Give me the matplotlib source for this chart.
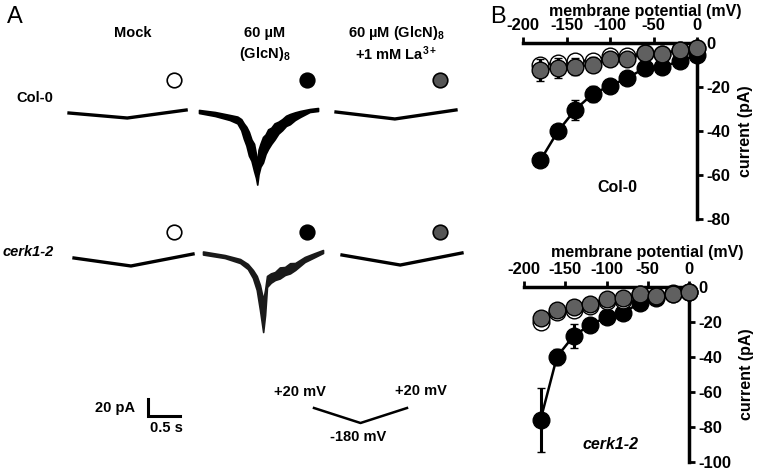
import matplotlib
matplotlib.use('Agg')
import matplotlib.pyplot as plt
import numpy as np

plt.rcParams['font.family'] = ['Liberation Sans', 'DejaVu Sans']
plt.rcParams['font.weight'] = 'bold'
plt.rcParams['axes.unicode_minus'] = False
plt.rcParams['mathtext.fontset'] = 'custom'
plt.rcParams['mathtext.rm'] = 'Liberation Sans:bold'
plt.rcParams['mathtext.bf'] = 'Liberation Sans:bold'
plt.rcParams['mathtext.it'] = 'Liberation Sans:italic:bold'
plt.rcParams['mathtext.default'] = 'rm'

# ---------------- data: panel B (I-V curves) ----------------
voltage = [-180, -160, -140, -120, -100, -80, -60, -40, -20, 0]

col_glcn = [-53.3, -40.2, -30.3, -23.2, -19.5, -15.9, -11.4, -10.7, -8.4, -5.4]
col_glcn_err = [1.5, 1.5, 4.5, 3.7, 2.5, 1.5, 1.5, 1.5, 1.0, 1.0]
col_mock = [-9.9, -9.0, -8.3, -8.0, -6.0, -6.0, -4.6, -4.9, -3.2, -2.1]
col_mock_err = [1.0, 1.0, 1.0, 1.0, 1.0, 1.0, 1.0, 1.0, 1.0, 0.5]
col_la = [-12.2, -11.4, -10.7, -9.9, -7.3, -7.3, -4.6, -4.9, -3.2, -2.1]
col_la_err = [5.0, 4.5, 4.0, 3.5, 1.5, 1.5, 1.0, 1.0, 1.0, 0.5]

cerk_glcn = [-76.0, -39.8, -28.0, -21.7, -17.3, -15.0, -9.0, -6.5, -3.6, -2.7]
cerk_glcn_err = [18.0, 4.5, 6.7, 2.0, 1.5, 1.5, 1.0, 1.0, 1.0, 0.5]
cerk_mock = [-20.0, -14.5, -13.0, -11.0, -8.0, -7.5, -3.8, -5.1, -3.8, -2.7]
cerk_mock_err = [1.5, 1.5, 1.0, 1.0, 1.0, 1.0, 1.0, 1.0, 1.0, 0.5]
cerk_la = [-17.9, -13.1, -11.6, -9.7, -7.0, -6.5, -3.8, -5.1, -3.8, -2.7]
cerk_la_err = [2.0, 1.5, 1.0, 1.0, 1.0, 1.0, 1.0, 1.0, 1.0, 0.5]

# ---------------- data: panel A (current traces, s / pA) ----------------
col_mock_t = [0.0, 0.91, 1.83]
col_mock_i = [0.0, -5.9, 3.5]
col_la_t = [0.0, 0.92, 1.875]
col_la_i = [0.0, -8.2, 2.4]
cerk_mock_t = [0.0, 0.89, 1.86]
cerk_mock_i = [0.0, -9.4, 4.7]
cerk_la_t = [0.0, 0.91, 1.875]
cerk_la_i = [0.0, -11.8, 2.4]

# noisy (GlcN)8 traces: upper / lower edge of the noise band
col_glcn_t = [0.0, 0.25, 0.48, 0.60, 0.66, 0.70, 0.74, 0.78, 0.82, 0.86, 0.89, 0.91, 0.93,
              0.96, 1.00, 1.04, 1.08, 1.13, 1.18, 1.24, 1.30, 1.36, 1.42, 1.50, 1.58, 1.73, 1.86]
col_glcn_hi = [1.8, -0.6, -4.1, -6.0, -9.0, -14.0, -18.0, -24.0, -33.0, -38.0, -50.0, -62.0, -45.0,
               -38.0, -30.0, -27.0, -21.0, -19.0, -14.0, -12.0, -9.0, -5.0, -3.0, -1.0, 0.6, 2.9, 4.1]
col_glcn_lo = [-1.8, -5.3, -10.0, -14.0, -22.0, -32.0, -40.0, -52.0, -58.0, -70.0, -78.0, -86.0, -74.0,
               -65.0, -60.0, -50.0, -44.0, -38.0, -33.0, -26.0, -22.0, -17.0, -15.0, -10.0, -6.5, -0.6, 0.6]

cerk_glcn_t = [0.0, 0.34, 0.58, 0.70, 0.78, 0.84, 0.89, 0.94, 0.97, 1.0, 1.06, 1.125, 1.2,
               1.28, 1.36, 1.44, 1.59, 1.75, 1.875]
cerk_glcn_hi = [1.8, -2.4, -7.1, -12.9, -20.0, -27.0, -37.6, -55.0, -43.5, -27.0, -24.0, -22.4, -17.0,
                -16.5, -12.0, -11.8, -4.7, 0.0, 3.5]
cerk_glcn_lo = [-1.8, -5.9, -11.8, -18.8, -29.4, -43.5, -67.0, -93.0, -73.0, -40.0, -35.0, -31.8, -30.0,
                -25.9, -24.0, -20.0, -10.6, -4.7, 0.0]

# voltage protocol
proto_t = [0.0, 1.0, 2.0]
proto_v = [20, -180, 20]

W, H = 762, 473
fig = plt.figure(figsize=(W / 100, H / 100), dpi=100)


def fx(x):
    return x / W


def fy(y):
    return 1 - y / H


def txt(x, y, s, **kw):
    ha = kw.pop('ha', 'center')
    va = kw.pop('va', 'center')
    fig.text(fx(x), fy(y), s, ha=ha, va=va, **kw)


# ---------- panel A ----------
PX_S, PX_PA = 64.0, 0.85
T0, T1, I0, I1 = -0.05, 2.0, -105.0, 15.0


def trace_ax(x0, y0):
    left = x0 + T0 * PX_S
    width = (T1 - T0) * PX_S
    top = y0 - I1 * PX_PA
    bottom = y0 - I0 * PX_PA
    ax = fig.add_axes([fx(left), fy(bottom), width / W, (bottom - top) / H])
    ax.set_xlim(T0, T1)
    ax.set_ylim(I0, I1)
    ax.axis('off')
    return ax


LW = 2.4
for (x0, y0), t, i in [((69, 113), col_mock_t, col_mock_i),
                       ((336, 112), col_la_t, col_la_i),
                       ((74, 258), cerk_mock_t, cerk_mock_i),
                       ((342, 255), cerk_la_t, cerk_la_i)]:
    ax = trace_ax(x0, y0)
    ax.plot(t, i, color='black', lw=LW, solid_joinstyle='miter')

for (x0, y0), t, hi, lo, c in [((199, 111.5), col_glcn_t, col_glcn_hi, col_glcn_lo, 'black'),
                               ((203, 253), cerk_glcn_t, cerk_glcn_hi, cerk_glcn_lo, '#1a1a1a')]:
    ax = trace_ax(x0, y0)
    ax.fill_between(t, lo, hi, color=c, lw=1.2, edgecolor=c)

# overlay for condition symbols
ov = fig.add_axes([0, 0, 1, 1], zorder=-1)
ov.set_xlim(0, W)
ov.set_ylim(H, 0)
ov.axis('off')
sym_colors = ['white', 'black', '#555555']
for cx, fc in zip([174, 307, 440], sym_colors):
    ov.plot([cx], [80], 'o', ms=10.5, mfc=fc, mec='black', mew=1.2)
    ov.plot([cx], [232], 'o', ms=10.5, mfc=fc, mec='black', mew=1.2)

FS = 10.5
txt(15, 17, 'A', fontsize=17, fontweight='normal')
txt(498, 17, 'B', fontsize=17, fontweight='normal')
txt(133, 33, 'Mock', fontsize=FS)
txt(265, 33, '60 µM', fontsize=FS)
txt(265, 54, '(GlcN)$_8$', fontsize=FS)
txt(396, 33, '60 µM (GlcN)$_8$', fontsize=FS)
txt(396, 54, '+1 mM La$^{3+}$', fontsize=FS)
txt(35, 98, 'Col-0', fontsize=FS)
txt(28, 252, 'cerk1-2', fontsize=FS, style='italic')

# scale bar (s / pA)
sb = fig.add_axes([fx(148), fy(416), 0.55 * PX_S / W, 22 * PX_PA / H])
sb.set_xlim(0, 0.55)
sb.set_ylim(0, 22)
sb.axis('off')
sb.plot([0, 0, 0.5], [20, 0, 0], color='black', lw=2.2, solid_joinstyle='miter', clip_on=False)
txt(115, 408, '20 pA', fontsize=FS)
txt(166, 428, '0.5 s', fontsize=FS)

# voltage protocol
pr = fig.add_axes([fx(314), fy(423), (407 - 314) / W, 15 / H])
pr.set_xlim(0, 2)
pr.set_ylim(-180, 20)
pr.axis('off')
pr.plot(proto_t, proto_v, color='black', lw=1.8, clip_on=False)
txt(300, 392, '+20 mV', fontsize=FS)
txt(421, 391, '+20 mV', fontsize=FS)
txt(358, 437, '-180 mV', fontsize=FS)

# ---------- panel B ----------
TFS = 12
LFS = 11.5


def iv_ax(l, r, t, b, ymin, yticks, label_x, label_y):
    ax = fig.add_axes([fx(l), fy(b), (r - l) / W, (b - t) / H])
    ax.set_xlim(-200, 0)
    ax.set_ylim(ymin, 0)
    for s in ['left', 'bottom']:
        ax.spines[s].set_visible(False)
    for s in ['top', 'right']:
        ax.spines[s].set_linewidth(2.5)
    ax.xaxis.tick_top()
    ax.yaxis.tick_right()
    ax.set_xticks([-200, -150, -100, -50, 0])
    ax.set_yticks(yticks)
    ax.tick_params(direction='out', length=4, width=2, labelsize=TFS, pad=3)
    for lab in ax.get_xticklabels() + ax.get_yticklabels():
        lab.set_fontweight('bold')
    ax.xaxis.set_label_position('top')
    ax.set_xlabel('membrane potential (mV)', fontsize=LFS, fontweight='bold', va='bottom')
    ax.xaxis.set_label_coords(label_x, label_y)
    ax.set_ylabel('current (pA)', fontsize=LFS, fontweight='bold', labelpad=5)
    ax.yaxis.set_label_position('right')
    ax.patch.set_visible(False)
    return ax


def series(ax, y, err, fc, z):
    ax.errorbar(voltage, y, yerr=err, fmt='-o', color='black', mfc=fc, mec='black',
                ms=12, mew=1.0, lw=1.8, elinewidth=2.2, capsize=3, capthick=2.2,
                zorder=z, clip_on=False)


ax1 = iv_ax(523, 697, 43, 219, -80, [0, -20, -40, -60, -80], 0.70, 1 + 24 / 176)
series(ax1, col_glcn, col_glcn_err, 'black', 3)
series(ax1, col_mock, col_mock_err, 'white', 4)
series(ax1, col_la, col_la_err, '#606060', 5)
ax1.text(-91, -65.5, 'Col-0', fontsize=LFS, ha='center', va='center')

ax2 = iv_ax(524, 689, 287, 462, -100, [0, -20, -40, -60, -80, -100], 0.745, 1 + 27 / 175)
series(ax2, cerk_glcn, cerk_glcn_err, 'black', 3)
series(ax2, cerk_mock, cerk_mock_err, 'white', 4)
series(ax2, cerk_la, cerk_la_err, '#606060', 5)
ax2.text(-95, -90, 'cerk1-2', fontsize=LFS, ha='center', va='center', style='italic')

fig.savefig('out.png', dpi=100)
